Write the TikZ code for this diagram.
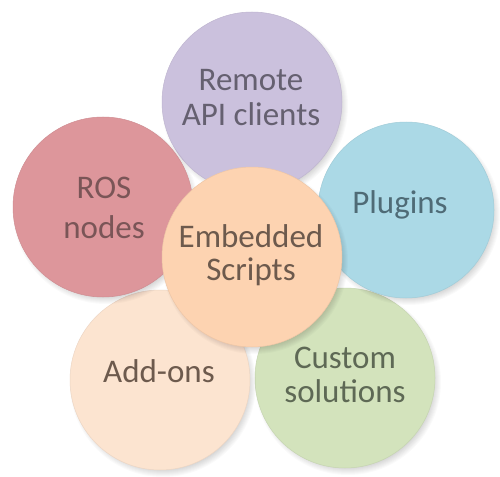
\documentclass[tikz,border=0pt]{standalone}
\usepackage{fontspec}
\setmainfont{Carlito}
\definecolor{cPurple}{HTML}{CBC1DD}
\definecolor{cRed}{HTML}{DD969B}
\definecolor{cBlue}{HTML}{ABD9E6}
\definecolor{cPeach}{HTML}{FDD3B1}
\definecolor{cCream}{HTML}{FCE4D0}
\definecolor{cGreen}{HTML}{D3E3BC}
\definecolor{tPurple}{HTML}{656070}
\definecolor{tRed}{HTML}{7A5557}
\definecolor{tBlue}{HTML}{4F6B76}
\definecolor{tPeach}{HTML}{6D5A4D}
\definecolor{tGreen}{HTML}{5E6955}
\tikzset{
  petal/.style={circle, minimum size=180pt, inner sep=0pt, line width=0.5pt},
  lbl/.style={anchor=base, inner sep=0pt, font=\fontsize{33}{35}\selectfont}
}
\newcommand{\softshadow}[3]{% x, y, radius
  \foreach \k in {0,...,7}{
    \fill[black, opacity=0.018] (#1+3,#2+4) circle ({#3+\k});
  }
}
\begin{document}
\begin{tikzpicture}[x=1pt, y=-1pt]
\path[fill=white] (0,0) rectangle (500,476);
\useasboundingbox (0,0) rectangle (500,476);
% petals
\softshadow{252}{102}{86}
\node[petal, fill=cPurple, draw=cPurple!94!black] (remote) at (252,102) {};
\softshadow{345}{378}{86}
\node[petal, fill=cGreen, draw=cGreen!94!black] (custom) at (345,378) {};
\softshadow{160}{380}{86}
\node[petal, fill=cCream, draw=cCream!94!black] (addons) at (160,380) {};
\softshadow{103}{207}{86}
\node[petal, fill=cRed, draw=cRed!94!black] (ros) at (103,207) {};
\softshadow{406}{210}{84}
\node[petal, fill=cBlue, draw=cBlue!94!black, minimum size=176pt] (plugins) at (406,210) {};
\softshadow{252}{257}{86}
\node[petal, fill=cPeach, draw=cPeach!94!black] (embedded) at (252,257) {};
% labels
\node[lbl, text=tPurple] (remoteA) at (251,91) {Remote};
\node[lbl, text=tPurple] (remoteB) at (251,125) {API clients};
\node[lbl, text=tRed] (rosA) at (104,198) {ROS};
\node[lbl, text=tRed] (rosB) at (104,238) {nodes};
\node[lbl, text=tBlue] (pluginsA) at (400,213) {Plugins};
\node[lbl, text=tPeach] (embA) at (251,247) {Embedded};
\node[lbl, text=tPeach] (embB) at (251,280) {Scripts};
\node[lbl, text=tPeach] (addA) at (159,382) {Add-ons};
\node[lbl, text=tGreen] (custA) at (345,368) {Custom};
\node[lbl, text=tGreen] (custB) at (345,402) {solutions};
\end{tikzpicture}
\end{document}
